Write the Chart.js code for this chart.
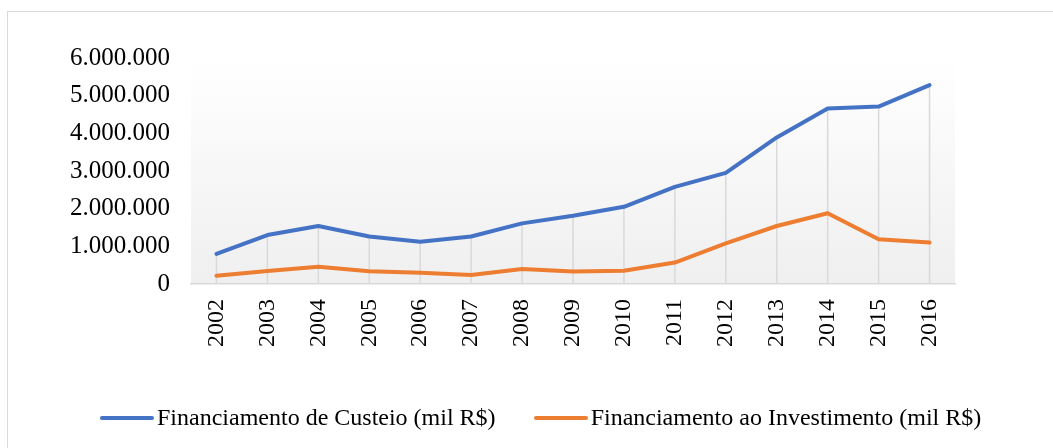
<!DOCTYPE html>
<html>
<head>
<meta charset="utf-8">
<script src="https://cdn.jsdelivr.net/npm/chart.js@4.4.0/dist/chart.umd.min.js"></script>
<style>
  html, body { margin: 0; padding: 0; background: #fff; overflow: hidden; }
  #frame {
    position: absolute; left: 7px; top: 11px; width: 1070px; height: 460px;
    border: 1px solid #d9d9d9; box-sizing: border-box;
  }
  #wrap { position: absolute; left: 0; top: 0; width: 1053px; height: 448px; }
  #legend {
    position: absolute; left: 100px; top: 404px; display: flex; align-items: center;
    font-family: 'Liberation Serif', 'Times New Roman', serif; font-size: 24px; color: #000;
    white-space: nowrap;
  }
  .item { display: flex; align-items: center; margin-right: 38px; }
  .swatch { width: 54px; height: 4px; border-radius: 2px; margin-right: 3px; }
</style>
</head>
<body>
<div id="frame"></div>
<div id="wrap"><canvas id="lineChart"></canvas></div>
<div id="legend"></div>
<script>
// Data
const years = ["2002","2003","2004","2005","2006","2007","2008","2009","2010","2011","2012","2013","2014","2015","2016"];
const custeio = [800000,1300000,1540000,1260000,1120000,1260000,1610000,1810000,2050000,2580000,2950000,3890000,4660000,4710000,5280000];
const investimento = [220000,345000,460000,340000,300000,240000,400000,330000,350000,570000,1080000,1540000,1880000,1190000,1100000];
const yTicks = [0,1000000,2000000,3000000,4000000,5000000,6000000];

const seriesNames = ["Financiamento de Custeio (mil R$)", "Financiamento ao Investimento (mil R$)"];
const seriesColors = ["#4472C4", "#ED7D31"];

const FONT = "'Liberation Serif', 'Times New Roman', serif";

function formatThousands(v) {
    return String(v).replace(/\B(?=(\d{3})+(?!\d))/g, '.');
}

// Gradient plot background
const plotBackground = {
    id: 'plotBackground',
    beforeDraw(chart) {
        const { ctx, chartArea } = chart;
        const g = ctx.createLinearGradient(0, chartArea.top, 0, chartArea.bottom);
        g.addColorStop(0, '#ffffff');
        g.addColorStop(1, '#efefef');
        ctx.save();
        ctx.fillStyle = g;
        ctx.fillRect(chartArea.left, chartArea.top, chartArea.right - chartArea.left, chartArea.bottom - chartArea.top);
        ctx.restore();
    }
};

// Drop lines from the highest point down to the axis
const dropLines = {
    id: 'dropLines',
    beforeDatasetsDraw(chart) {
        const { ctx, scales } = chart;
        const x = scales.x, y = scales.y;
        ctx.save();
        ctx.strokeStyle = '#d9d9d9';
        ctx.lineWidth = 1.5;
        years.forEach(function (yr, i) {
            const top = Math.max(custeio[i], investimento[i]);
            const px = x.getPixelForValue(i);
            ctx.beginPath();
            ctx.moveTo(px, y.getPixelForValue(0));
            ctx.lineTo(px, y.getPixelForValue(top));
            ctx.stroke();
        });
        ctx.restore();
    }
};

function createChart(id, config) {
    const ctx = document.getElementById(id);
    if (!ctx) {
        console.error(`Canvas element with id '${id}' not found`);
        return;
    }
    ctx.chart = new Chart(ctx, config);
}

createChart("lineChart", {
    type: "line",
    data: {
        labels: years,
        datasets: [
            {
                label: seriesNames[0],
                data: custeio,
                borderColor: seriesColors[0],
                backgroundColor: seriesColors[0],
                borderWidth: 4,
                pointRadius: 0,
                borderCapStyle: 'round',
                borderJoinStyle: 'round',
                tension: 0,
            },
            {
                label: seriesNames[1],
                data: investimento,
                borderColor: seriesColors[1],
                backgroundColor: seriesColors[1],
                borderWidth: 4,
                pointRadius: 0,
                borderCapStyle: 'round',
                borderJoinStyle: 'round',
                tension: 0,
            },
        ],
    },
    options: {
        responsive: true,
        maintainAspectRatio: false,
        animation: false,
        layout: { padding: { top: 58, right: 98, bottom: 0, left: 0 } },
        plugins: {
            legend: { display: false },
            tooltip: { enabled: false },
        },
        scales: {
            y: {
                min: 0,
                max: 6000000,
                afterFit: function (scale) { scale.width = 191; },
                afterBuildTicks: function (scale) {
                    scale.ticks = yTicks.map(function (v) { return { value: v }; });
                },
                grid: { display: false, drawTicks: false },
                border: { display: false },
                ticks: {
                    padding: 21,
                    color: '#000',
                    font: { family: FONT, size: 25 },
                    callback: function (v) { return formatThousands(v); },
                },
            },
            x: {
                offset: true,
                afterFit: function (scale) { scale.height = 164; },
                grid: { display: false, drawTicks: false },
                border: { display: true, color: '#d9d9d9', width: 1.5 },
                ticks: {
                    padding: 15,
                    minRotation: 90,
                    maxRotation: 90,
                    color: '#000',
                    font: { family: FONT, size: 24 },
                },
            },
        },
    },
    plugins: [plotBackground, dropLines],
});

// HTML legend
const legendEl = document.getElementById('legend');
seriesNames.forEach(function (name, i) {
    const item = document.createElement('div');
    item.className = 'item';
    const sw = document.createElement('span');
    sw.className = 'swatch';
    sw.style.background = seriesColors[i];
    const txt = document.createElement('span');
    txt.textContent = name;
    item.appendChild(sw);
    item.appendChild(txt);
    legendEl.appendChild(item);
});
</script>
</body>
</html>
